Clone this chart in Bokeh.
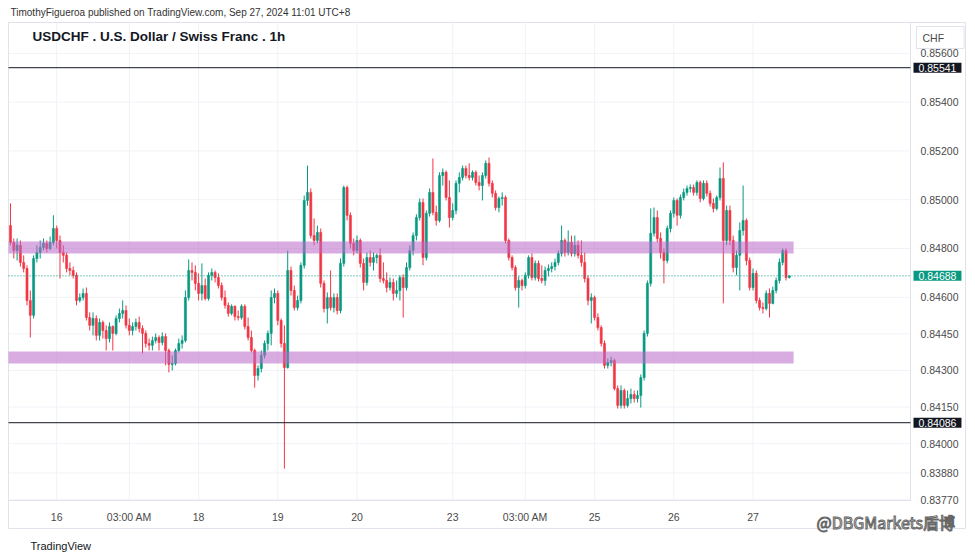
from bokeh.plotting import figure
from bokeh.models import Range1d, FixedTicker, NumeralTickFormatter, Label, LinearAxis, ColumnDataSource
from bokeh.embed import file_html
from bokeh.resources import INLINE

header_text = "TimothyFigueroa published on TradingView.com, Sep 27, 2024 11:01 UTC+8"
chart_title = "USDCHF . U.S. Dollar / Swiss Franc . 1h"
currency = "CHF"
watermark = "@DBGMarkets盾博"
brand = "TradingView"

# hourly candles, Sep 13 15:00 -> Sep 27 11:00 (UTC+8)
opens = [
    0.84894, 0.84825, 0.84792, 0.84813, 0.84743, 0.84718, 0.84587, 0.84526, 0.84759, 0.84784,
    0.84804, 0.84821, 0.84800, 0.84825, 0.84882, 0.84833, 0.84784, 0.84772, 0.84718, 0.84710,
    0.84690, 0.84587, 0.84599, 0.84616, 0.84517, 0.84485, 0.84513, 0.84444, 0.84497, 0.84464,
    0.84431, 0.84480, 0.84452, 0.84513, 0.84534, 0.84546, 0.84485, 0.84464, 0.84480, 0.84497,
    0.84472, 0.84452, 0.84411, 0.84403, 0.84423, 0.84435, 0.84415, 0.84439, 0.84382, 0.84325,
    0.84329, 0.84382, 0.84411, 0.84423, 0.84599, 0.84710, 0.84702, 0.84657, 0.84616, 0.84648,
    0.84595, 0.84690, 0.84702, 0.84681, 0.84648, 0.84599, 0.84567, 0.84534, 0.84563, 0.84521,
    0.84517, 0.84563, 0.84480, 0.84435, 0.84382, 0.84280, 0.84308, 0.84362, 0.84411, 0.84452,
    0.84599, 0.84616, 0.84505, 0.84411, 0.84312, 0.84710, 0.84628, 0.84558, 0.84587, 0.84731,
    0.84997, 0.85030, 0.84853, 0.84833, 0.84866, 0.84657, 0.84554, 0.84599, 0.84558, 0.84599,
    0.84546, 0.84739, 0.85050, 0.84936, 0.84821, 0.84792, 0.84833, 0.84739, 0.84661, 0.84763,
    0.84743, 0.84763, 0.84772, 0.84677, 0.84669, 0.84640, 0.84661, 0.84616, 0.84628, 0.84681,
    0.84640, 0.84722, 0.84792, 0.84853, 0.84927, 0.84989, 0.84763, 0.84944, 0.85030, 0.84948,
    0.84915, 0.85099, 0.85112, 0.85009, 0.84927, 0.84956, 0.85067, 0.85091, 0.85128, 0.85099,
    0.85091, 0.85112, 0.85071, 0.85058, 0.85099, 0.85149, 0.85067, 0.85026, 0.84968, 0.85005,
    0.85009, 0.84833, 0.84763, 0.84722, 0.84640, 0.84669, 0.84648, 0.84690, 0.84763, 0.84681,
    0.84739, 0.84677, 0.84669, 0.84710, 0.84718, 0.84726, 0.84743, 0.84780, 0.84833, 0.84784,
    0.84825, 0.84780, 0.84813, 0.84772, 0.84743, 0.84677, 0.84587, 0.84599, 0.84517, 0.84476,
    0.84411, 0.84321, 0.84333, 0.84341, 0.84226, 0.84157, 0.84218, 0.84157, 0.84185, 0.84202,
    0.84185, 0.84198, 0.84271, 0.84452, 0.84657, 0.84862, 0.84927, 0.84841, 0.84784, 0.84751,
    0.84882, 0.84944, 0.84997, 0.84936, 0.85009, 0.85030, 0.85046, 0.85050, 0.85030, 0.85071,
    0.85005, 0.85067, 0.85026, 0.84985, 0.84964, 0.85009, 0.85087, 0.84833, 0.84956, 0.84833,
    0.84722, 0.84772, 0.84874, 0.84915, 0.84751, 0.84640, 0.84698, 0.84587, 0.84558, 0.84554,
    0.84616, 0.84575, 0.84628, 0.84669, 0.84743, 0.84792, 0.84681,
]
highs = [
    0.84985, 0.84841, 0.84841, 0.84833, 0.84772, 0.84731, 0.84628, 0.84772, 0.84813, 0.84833,
    0.84841, 0.84833, 0.84849, 0.84936, 0.84894, 0.84853, 0.84813, 0.84784, 0.84743, 0.84726,
    0.84702, 0.84616, 0.84636, 0.84640, 0.84538, 0.84538, 0.84526, 0.84513, 0.84505, 0.84485,
    0.84497, 0.84485, 0.84526, 0.84554, 0.84587, 0.84567, 0.84513, 0.84497, 0.84513, 0.84521,
    0.84485, 0.84464, 0.84431, 0.84439, 0.84452, 0.84444, 0.84456, 0.84452, 0.84390, 0.84362,
    0.84390, 0.84431, 0.84444, 0.84628, 0.84755, 0.84743, 0.84731, 0.84698, 0.84739, 0.84677,
    0.84702, 0.84718, 0.84710, 0.84698, 0.84661, 0.84628, 0.84579, 0.84571, 0.84567, 0.84546,
    0.84571, 0.84571, 0.84517, 0.84464, 0.84390, 0.84321, 0.84382, 0.84423, 0.84464, 0.84628,
    0.84636, 0.84628, 0.84513, 0.84485, 0.84792, 0.84726, 0.84648, 0.84607, 0.84743, 0.85017,
    0.85140, 0.85046, 0.84923, 0.84894, 0.84882, 0.84669, 0.84620, 0.84710, 0.84616, 0.84616,
    0.84759, 0.85058, 0.85058, 0.84948, 0.84841, 0.84853, 0.84841, 0.84759, 0.84784, 0.84792,
    0.84784, 0.84780, 0.84800, 0.84743, 0.84702, 0.84681, 0.84677, 0.84669, 0.84690, 0.84694,
    0.84743, 0.84813, 0.84866, 0.84940, 0.85005, 0.85005, 0.84956, 0.85046, 0.85169, 0.84976,
    0.85112, 0.85128, 0.85120, 0.85079, 0.84985, 0.85079, 0.85112, 0.85140, 0.85140, 0.85149,
    0.85120, 0.85120, 0.85099, 0.85112, 0.85161, 0.85173, 0.85079, 0.85038, 0.85013, 0.85030,
    0.85017, 0.84841, 0.84772, 0.84731, 0.84686, 0.84677, 0.84702, 0.84772, 0.84780, 0.84751,
    0.84751, 0.84731, 0.84726, 0.84735, 0.84743, 0.84759, 0.84792, 0.84894, 0.84841, 0.84874,
    0.84853, 0.84853, 0.84833, 0.84833, 0.84784, 0.84690, 0.84616, 0.84607, 0.84534, 0.84485,
    0.84423, 0.84349, 0.84357, 0.84349, 0.84239, 0.84239, 0.84226, 0.84218, 0.84226, 0.84218,
    0.84218, 0.84284, 0.84464, 0.84669, 0.84964, 0.84968, 0.84956, 0.84866, 0.84800, 0.84894,
    0.84956, 0.85009, 0.85005, 0.85021, 0.85046, 0.85058, 0.85062, 0.85062, 0.85079, 0.85079,
    0.85079, 0.85079, 0.85038, 0.85005, 0.85017, 0.85132, 0.85153, 0.84976, 0.84976, 0.84853,
    0.84792, 0.84907, 0.85058, 0.84923, 0.84763, 0.84718, 0.84710, 0.84599, 0.84579, 0.84628,
    0.84636, 0.84644, 0.84681, 0.84759, 0.84800, 0.84800, 0.84690,
]
lows = [
    0.84813, 0.84759, 0.84751, 0.84726, 0.84702, 0.84567, 0.84435, 0.84513, 0.84743, 0.84759,
    0.84792, 0.84784, 0.84792, 0.84813, 0.84800, 0.84677, 0.84743, 0.84702, 0.84690, 0.84677,
    0.84567, 0.84579, 0.84587, 0.84505, 0.84464, 0.84444, 0.84423, 0.84423, 0.84431, 0.84382,
    0.84415, 0.84382, 0.84444, 0.84497, 0.84513, 0.84472, 0.84444, 0.84444, 0.84464, 0.84456,
    0.84370, 0.84394, 0.84382, 0.84382, 0.84411, 0.84382, 0.84403, 0.84321, 0.84292, 0.84300,
    0.84321, 0.84374, 0.84390, 0.84415, 0.84587, 0.84669, 0.84628, 0.84587, 0.84587, 0.84587,
    0.84587, 0.84669, 0.84661, 0.84636, 0.84587, 0.84554, 0.84521, 0.84526, 0.84505, 0.84505,
    0.84509, 0.84468, 0.84423, 0.84374, 0.84230, 0.84259, 0.84292, 0.84349, 0.84382, 0.84403,
    0.84575, 0.84485, 0.84394, 0.83898, 0.84308, 0.84607, 0.84546, 0.84546, 0.84575, 0.84718,
    0.84976, 0.84841, 0.84813, 0.84821, 0.84640, 0.84538, 0.84493, 0.84546, 0.84538, 0.84530,
    0.84534, 0.84726, 0.84915, 0.84800, 0.84772, 0.84780, 0.84722, 0.84628, 0.84648, 0.84726,
    0.84710, 0.84739, 0.84661, 0.84657, 0.84620, 0.84628, 0.84587, 0.84599, 0.84587, 0.84517,
    0.84628, 0.84710, 0.84772, 0.84833, 0.84915, 0.84731, 0.84751, 0.84931, 0.84936, 0.84894,
    0.84907, 0.85058, 0.84997, 0.84886, 0.84915, 0.84940, 0.85030, 0.85079, 0.85087, 0.85079,
    0.85079, 0.85058, 0.85038, 0.84997, 0.85087, 0.85054, 0.85009, 0.84956, 0.84948, 0.84976,
    0.84821, 0.84751, 0.84710, 0.84628, 0.84558, 0.84628, 0.84636, 0.84677, 0.84669, 0.84669,
    0.84665, 0.84657, 0.84648, 0.84686, 0.84702, 0.84710, 0.84731, 0.84767, 0.84767, 0.84772,
    0.84767, 0.84767, 0.84759, 0.84726, 0.84661, 0.84567, 0.84493, 0.84505, 0.84464, 0.84398,
    0.84308, 0.84308, 0.84317, 0.84218, 0.84144, 0.84144, 0.84144, 0.84148, 0.84165, 0.84169,
    0.84169, 0.84148, 0.84259, 0.84439, 0.84644, 0.84849, 0.84825, 0.84759, 0.84657, 0.84739,
    0.84866, 0.84927, 0.84894, 0.84923, 0.84997, 0.85017, 0.85030, 0.85017, 0.85017, 0.84989,
    0.84997, 0.85013, 0.84972, 0.84948, 0.84956, 0.84997, 0.84575, 0.84813, 0.84813, 0.84702,
    0.84690, 0.84628, 0.84853, 0.84731, 0.84628, 0.84628, 0.84575, 0.84546, 0.84534, 0.84546,
    0.84517, 0.84571, 0.84616, 0.84657, 0.84731, 0.84669, 0.84677,
]
closes = [
    0.84825, 0.84792, 0.84813, 0.84743, 0.84718, 0.84587, 0.84526, 0.84759, 0.84784, 0.84804,
    0.84821, 0.84800, 0.84825, 0.84882, 0.84833, 0.84784, 0.84772, 0.84718, 0.84710, 0.84690,
    0.84587, 0.84599, 0.84616, 0.84517, 0.84485, 0.84513, 0.84444, 0.84497, 0.84464, 0.84431,
    0.84480, 0.84452, 0.84513, 0.84534, 0.84546, 0.84485, 0.84464, 0.84480, 0.84497, 0.84472,
    0.84452, 0.84411, 0.84403, 0.84423, 0.84435, 0.84415, 0.84439, 0.84382, 0.84325, 0.84329,
    0.84382, 0.84411, 0.84423, 0.84599, 0.84710, 0.84702, 0.84657, 0.84616, 0.84648, 0.84595,
    0.84690, 0.84702, 0.84681, 0.84648, 0.84599, 0.84567, 0.84534, 0.84563, 0.84521, 0.84517,
    0.84563, 0.84480, 0.84435, 0.84382, 0.84280, 0.84308, 0.84362, 0.84411, 0.84452, 0.84599,
    0.84616, 0.84505, 0.84411, 0.84312, 0.84710, 0.84628, 0.84558, 0.84587, 0.84731, 0.84997,
    0.85030, 0.84853, 0.84833, 0.84866, 0.84657, 0.84554, 0.84599, 0.84558, 0.84599, 0.84546,
    0.84739, 0.85050, 0.84936, 0.84821, 0.84792, 0.84833, 0.84739, 0.84661, 0.84763, 0.84743,
    0.84763, 0.84772, 0.84677, 0.84669, 0.84640, 0.84661, 0.84616, 0.84628, 0.84681, 0.84640,
    0.84722, 0.84792, 0.84853, 0.84927, 0.84989, 0.84763, 0.84944, 0.85030, 0.84948, 0.84915,
    0.85099, 0.85112, 0.85009, 0.84927, 0.84956, 0.85067, 0.85091, 0.85128, 0.85099, 0.85091,
    0.85112, 0.85071, 0.85058, 0.85099, 0.85149, 0.85067, 0.85026, 0.84968, 0.85005, 0.85009,
    0.84833, 0.84763, 0.84722, 0.84640, 0.84669, 0.84648, 0.84690, 0.84763, 0.84681, 0.84739,
    0.84677, 0.84669, 0.84710, 0.84718, 0.84726, 0.84743, 0.84780, 0.84833, 0.84784, 0.84825,
    0.84780, 0.84813, 0.84772, 0.84743, 0.84677, 0.84587, 0.84599, 0.84517, 0.84476, 0.84411,
    0.84321, 0.84333, 0.84341, 0.84226, 0.84157, 0.84218, 0.84157, 0.84185, 0.84202, 0.84185,
    0.84198, 0.84271, 0.84452, 0.84657, 0.84862, 0.84927, 0.84841, 0.84784, 0.84751, 0.84882,
    0.84944, 0.84997, 0.84936, 0.85009, 0.85030, 0.85046, 0.85050, 0.85030, 0.85071, 0.85005,
    0.85067, 0.85026, 0.84985, 0.84964, 0.85009, 0.85087, 0.84833, 0.84956, 0.84833, 0.84722,
    0.84772, 0.84874, 0.84915, 0.84751, 0.84640, 0.84698, 0.84587, 0.84558, 0.84554, 0.84616,
    0.84575, 0.84628, 0.84669, 0.84743, 0.84792, 0.84681, 0.84688,
]
bar_index = list(range(len(closes)))

# time axis labels (bar index -> label)
tick_bars = [14, 36, 57, 81, 105, 134, 156, 177, 201, 225]
tick_labels = ["16", "03:00 AM", "18", "19", "20", "23", "03:00 AM", "25", "26", "27"]

price_ticks = [0.83770, 0.83880, 0.84000, 0.84150, 0.84300, 0.84450,
               0.84600, 0.84800, 0.85000, 0.85200, 0.85400, 0.85600]

resistance_level = 0.85541
support_level = 0.84086
last_price = closes[-1]

zone_bottoms = [0.84780, 0.84329]
zone_tops = [0.84829, 0.84378]
zone_end_bar = 237.3

# ---------------------------------------------------------------
# layout of the canvas in data units (whole canvas is the frame)
CANVAS_BARS = (-3.03, 292.42)
CANVAS_PRICES = (0.835254, 0.858164)
PANE_LEFT, PANE_RIGHT = -0.61, 272.73
PANE_BOTTOM, PANE_TOP = 0.837672, 0.857262
OUTER_RIGHT, OUTER_BOTTOM = 289.4, 0.836525

UP, DOWN = "#089981", "#f23645"
BORDER = "#e0e3eb"
GRID = "#f0f2f6"
W, H = 975, 559

src = ColumnDataSource(dict(
    x=bar_index,
    high=highs,
    low=lows,
    top=[max(o, c) for o, c in zip(opens, closes)],
    bottom=[min(o, c) for o, c in zip(opens, closes)],
    color=[UP if c >= o else DOWN for o, c in zip(opens, closes)],
))

p = figure(width=W, height=H, x_range=Range1d(*CANVAS_BARS), y_range=Range1d(*CANVAS_PRICES),
           output_backend="svg", toolbar_location=None, x_axis_location=None,
           y_axis_location=None, min_border=0)
p.background_fill_color = "white"
p.border_fill_color = "white"
p.outline_line_color = None
p.grid.visible = False

# grid lines within the pane
p.segment(x0=tick_bars, x1=tick_bars, y0=PANE_BOTTOM, y1=PANE_TOP, line_color=GRID, line_width=1)
p.segment(x0=PANE_LEFT, x1=PANE_RIGHT, y0=price_ticks, y1=price_ticks, line_color=GRID, line_width=1)

# axes drawn at the pane edges
yax = LinearAxis(fixed_location=PANE_RIGHT, ticker=FixedTicker(ticks=price_ticks),
                 formatter=NumeralTickFormatter(format="0.00000"))
xax = LinearAxis(fixed_location=PANE_BOTTOM, ticker=FixedTicker(ticks=tick_bars))
xax.major_label_overrides = {b: l for b, l in zip(tick_bars, tick_labels)}
for ax in (xax, yax):
    ax.major_tick_line_color = None
    ax.minor_tick_line_color = None
    ax.major_tick_out = 0
    ax.major_tick_in = 0
    ax.axis_line_color = None
    ax.major_label_text_font = "Liberation Sans"
    ax.major_label_text_font_size = "10.5px"
    ax.major_label_text_color = "#4a4a4a"
    ax.major_label_standoff = 10
p.add_layout(yax, "right")
p.add_layout(xax, "below")

# borders
p.quad(left=PANE_LEFT, right=OUTER_RIGHT, bottom=OUTER_BOTTOM, top=PANE_TOP,
       fill_color=None, line_color=BORDER, line_width=1)
p.quad(left=PANE_LEFT, right=PANE_RIGHT, bottom=PANE_BOTTOM, top=PANE_TOP,
       fill_color=None, line_color=BORDER, line_width=1)

# candles
p.segment(x0="x", y0="low", x1="x", y1="high", line_color="color", line_width=1, source=src)
p.vbar(x="x", width=0.62, top="top", bottom="bottom", fill_color="color",
       line_color="color", line_width=0.6, source=src)

# zones
p.quad(left=PANE_LEFT, right=zone_end_bar, bottom=zone_bottoms, top=zone_tops,
       fill_color="#ba68c8", fill_alpha=0.55, line_color=None)

# levels
p.segment(x0=PANE_LEFT, x1=PANE_RIGHT, y0=[resistance_level, support_level],
          y1=[resistance_level, support_level], line_color="#131722", line_width=1)
p.segment(x0=PANE_LEFT, x1=PANE_RIGHT, y0=last_price, y1=last_price, line_color=UP,
          line_width=1, line_dash="1 2")

# texts
p.add_layout(Label(x=10, y=H - 12, x_units="screen", y_units="screen", text=header_text,
                   text_font="Liberation Sans", text_font_size="10px", text_color="#333333",
                   text_baseline="middle"))
p.add_layout(Label(x=32, y=H - 36, x_units="screen", y_units="screen", text=chart_title,
                   text_font="Liberation Sans", text_font_size="13.5px", text_font_style="bold",
                   text_color="#131722", text_baseline="middle"))
p.add_layout(Label(x=916, y=H - 37, x_units="screen", y_units="screen",
                   text=currency, text_font="Liberation Sans", text_font_size="10.5px",
                   text_color="#4a4a4a", text_baseline="middle", background_fill_color="white",
                   border_line_color=BORDER, padding=dict(left=6, right=20, top=5, bottom=5)))
for lvl, bg in ((resistance_level, "#131722"), (last_price, UP), (support_level, "#131722")):
    p.add_layout(Label(x=913, y=lvl, x_units="screen", y_units="data",
                       text=f"{lvl:.5f}", text_font="Liberation Sans", text_font_size="10.5px",
                       text_color="white", text_baseline="middle", background_fill_color=bg,
                       padding=dict(left=5, right=5, top=1, bottom=1)))
p.add_layout(Label(x=30, y=14, x_units="screen", y_units="screen", text=brand,
                   text_font="Liberation Sans", text_font_size="11px", text_color="#131722",
                   text_baseline="middle"))
p.add_layout(Label(x=816, y=38, x_units="screen", y_units="screen", text=watermark,
                   text_font="Noto Sans CJK SC", text_font_size="16px", text_color="white",
                   text_outline_color="#666666", text_baseline="middle"))

open("out.html", "w").write(file_html(p, INLINE))
